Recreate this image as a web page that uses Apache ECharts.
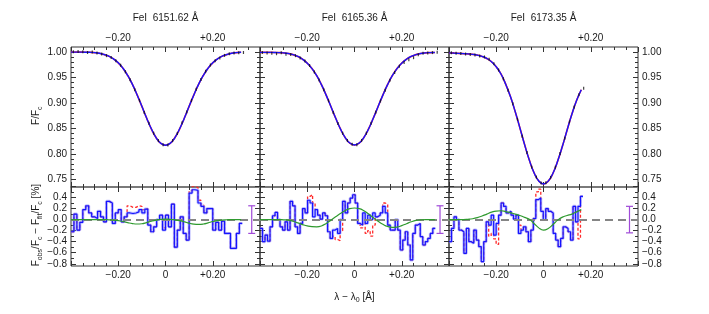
<!DOCTYPE html>
<html><head><meta charset="utf-8">
<script src="https://cdn.jsdelivr.net/npm/echarts@6/dist/echarts.min.js"></script>
<style>html,body{margin:0;padding:0;background:#fff}#c{width:709px;height:314px}</style>
</head><body><div id="c"></div><script>
// ---------------- data ----------------
const lineNames = ['FeI  6151.62 Å', 'FeI  6165.36 Å', 'FeI  6173.35 Å'];
const xTickLabels = ['\u22120.20', '0', '+0.20'];

// fitted profiles, sampled from -0.40 Å in steps of 0.02 Å
const fitStart = -0.40, fitStep = 0.02;
const fit1 = [1.000, 1.000, 0.9999, 0.9998, 0.9996, 0.9990, 0.9978, 0.9953, 0.9919, 0.9866, 0.9789, 0.9682, 0.9541, 0.9365, 0.9159, 0.8934, 0.8705, 0.8493, 0.8322, 0.8209, 0.8170,
  0.8209, 0.8322, 0.8493, 0.8705, 0.8934, 0.9159, 0.9365, 0.9541, 0.9682, 0.9789, 0.9866, 0.9919, 0.9953, 0.9978, 0.9990, 0.9996];
const fit2 = [0.9995, 0.9995, 0.9994, 0.9993, 0.9990, 0.9984, 0.9972, 0.9950, 0.9915, 0.9860, 0.9782, 0.9676, 0.9536, 0.9360, 0.9155, 0.8932, 0.8705, 0.8495, 0.8325, 0.8213, 0.8176,
  0.8213, 0.8325, 0.8495, 0.8705, 0.8932, 0.9155, 0.9360, 0.9536, 0.9676, 0.9782, 0.9860, 0.9915, 0.9950, 0.9972, 0.9984, 0.9990, 0.9993];
const fit3 = [0.9985, 0.998, 0.9975, 0.997, 0.9965, 0.9955, 0.994, 0.9915, 0.9875, 0.981, 0.971, 0.957, 0.937, 0.9126, 0.8835, 0.8512, 0.8183, 0.7878, 0.763, 0.7467, 0.741,
  0.7465, 0.762, 0.786, 0.815, 0.847, 0.878, 0.905, 0.926];

// observed profiles, sampled from -0.39 Å in steps of 0.02 Å
const obsStart = -0.39, obsStep = 0.02;
const obs1 = [1.0005, 1.0012, 1.0008, 0.9992, 1.0004, 0.9980, 0.9962, 0.9930, 0.9895, 0.9832, 0.9740, 0.9615, 0.9455, 0.9262, 0.9050, 0.8815, 0.8600, 0.8405, 0.8262, 0.8180,
  0.8175, 0.8262, 0.8400, 0.8610, 0.8825, 0.9050, 0.9270, 0.9460, 0.9625, 0.9745, 0.9830, 0.9885, 0.9935, 0.9968, 0.9980, 0.9988, 0.9992];
const obs2 = [0.9990, 0.9982, 0.9975, 0.9968, 0.9985, 0.9960, 0.9955, 0.9930, 0.9885, 0.9825, 0.9735, 0.9610, 0.9450, 0.9258, 0.9045, 0.8812, 0.8598, 0.8404, 0.8265, 0.8188,
  0.8180, 0.8265, 0.8405, 0.8600, 0.8818, 0.9040, 0.9250, 0.9445, 0.9600, 0.9720, 0.9795, 0.9850, 0.9890, 0.9950, 0.9975, 0.9982, 0.9990, 0.9995];
const obs3 = [0.9985, 0.9978, 0.9970, 0.9962, 0.9955, 0.9945, 0.9925, 0.9905, 0.9860, 0.9770, 0.9650, 0.9475, 0.9250, 0.8985, 0.8680, 0.8345, 0.8030, 0.7745, 0.7545, 0.7430,
  0.7435, 0.7540, 0.7740, 0.8010, 0.8310, 0.8630, 0.8920, 0.9160, 0.9290];

// residuals [%], binned from -0.40 Å
const resStart = -0.40;
const resStep = [0.0125, 0.0106, 0.0105];
const res1 = [-0.22, 0.10, -0.19, -0.05, 0.18, 0.25, 0.12, 0.05, 0.02, 0.15, 0.05, -0.04, 0.33, 0.30, -0.07, 0.12, 0.18, -0.04, 0.05, 0.12, 0.11, 0.12, 0.14, 0.18, 0.12, 0.19, -0.10, -0.22, -0.13, 0.00, 0.08, -0.19, 0.08, -0.13, 0.28, -0.50, -0.19, 0.05, -0.25, -0.37, 0.48, 0.54, 0.53, 0.30, 0.24, 0.12, 0.20, 0.20, -0.19, -0.05, -0.19, -0.03, -0.25, -0.25, -0.52, -0.52, -0.25, -0.07];
const red1 = [-0.22, 0.10, -0.19, -0.05, 0.18, 0.25, 0.12, 0.05, 0.02, 0.15, 0.05, -0.04, 0.33, 0.30, -0.07, 0.12, 0.18, -0.04, 0.05, 0.25, 0.22, 0.22, 0.25, 0.24, 0.18, 0.20, -0.10, -0.22, -0.13, 0.00, 0.08, -0.15, 0.08, -0.13, 0.28, -0.50, -0.19, 0.05, -0.25, -0.37, 0.52, 0.60, 0.58, 0.35, 0.26, 0.12, 0.20, 0.20, -0.19, -0.05, -0.19, -0.03, -0.25, -0.25, -0.52, -0.52, -0.25, -0.07];
const res2 = [-0.16, -0.40, -0.28, -0.39, -0.13, 0.07, 0.13, 0.00, -0.13, -0.19, -0.04, -0.19, 0.33, 0.25, -0.13, -0.25, -0.07, 0.20, 0.12, 0.35, 0.30, 0.05, 0.18, 0.08, 0.01, 0.12, 0.07, -0.22, -0.34, -0.19, -0.16, -0.25, 0.00, 0.33, 0.12, 0.30, 0.39, 0.45, 0.30, -0.07, -0.10, 0.12, -0.07, 0.08, 0.00, 0.12, 0.05, 0.08, 0.12, 0.24, 0.12, -0.10, -0.19, -0.19, 0.00, -0.19, -0.55, -0.37, -0.22, -0.46, -0.73, -0.25, -0.10, -0.07, -0.31, -0.46, -0.40, -0.34, -0.25, -0.16];
const red2 = [-0.16, -0.40, -0.28, -0.39, -0.13, 0.07, 0.13, 0.00, -0.13, -0.19, -0.04, -0.19, 0.33, 0.25, -0.13, -0.25, -0.07, 0.20, 0.12, 0.42, 0.45, 0.30, 0.18, 0.08, 0.01, 0.12, 0.07, -0.22, -0.34, -0.30, -0.36, -0.38, -0.20, 0.33, 0.12, 0.30, 0.39, 0.45, 0.30, -0.07, -0.15, -0.05, -0.25, -0.20, -0.30, -0.10, 0.05, 0.08, 0.12, 0.30, 0.28, -0.10, -0.19, -0.19, 0.00, -0.19, -0.55, -0.37, -0.22, -0.46, -0.73, -0.25, -0.10, -0.07, -0.31, -0.46, -0.40, -0.34, -0.25, -0.16];
const res3 = [-0.40, -0.16, 0.05, 0.00, -0.19, -0.22, -0.61, -0.16, -0.40, -0.43, -0.19, -0.37, -0.49, -0.76, -0.40, -0.04, -0.10, 0.08, -0.28, -0.07, 0.08, 0.30, 0.24, 0.12, 0.15, 0.08, 0.01, 0.08, -0.25, -0.19, -0.13, -0.22, -0.40, -0.19, 0.02, 0.36, 0.39, 0.15, 0.00, 0.20, 0.15, 0.12, -0.25, -0.37, -0.49, -0.34, -0.13, -0.16, -0.22, -0.37, 0.24, -0.04, 0.24, 0.42];
const red3 = [-0.40, -0.16, 0.05, 0.00, -0.19, -0.22, -0.61, -0.16, -0.40, -0.43, -0.19, -0.37, -0.49, -0.76, -0.40, -0.04, -0.30, -0.25, -0.35, -0.45, 0.08, 0.30, 0.24, 0.12, 0.15, 0.08, 0.01, 0.08, -0.10, -0.19, -0.13, -0.22, -0.40, -0.19, 0.02, 0.50, 0.55, 0.15, 0.00, 0.20, 0.15, 0.12, -0.25, -0.37, -0.49, -0.34, -0.13, -0.16, -0.22, -0.37, 0.24, -0.04, -0.35, 0.42];

// green model difference curves [%], from -0.40 Å in steps of 0.02 Å
const green1 = [0, 0, 0, 0, 0, 0, 0, 0, -0.005, -0.01, -0.02, -0.035, -0.055, -0.072, -0.08, -0.075, -0.055, -0.03, -0.01, 0.003, 0.008, 0.005, -0.005, -0.02, -0.04, -0.065, -0.082, -0.087, -0.08, -0.06, -0.035, -0.018, -0.008, -0.003, 0, 0, 0];
const green2 = [0, 0, 0, 0, 0, -0.005, -0.01, -0.03, -0.06, -0.09, -0.115, -0.128, -0.13, -0.115, -0.07, -0.01, 0.05, 0.11, 0.16, 0.20, 0.21, 0.20, 0.16, 0.10, 0.035, -0.03, -0.085, -0.125, -0.14, -0.135, -0.11, -0.075, -0.04, -0.015, -0.005, 0, 0, 0];
const green3 = [0, 0, 0, 0, 0.005, 0.015, 0.035, 0.065, 0.10, 0.135, 0.155, 0.16, 0.145, 0.125, 0.10, 0.075, 0.04, 0.005, -0.07, -0.15, -0.19, -0.16, -0.09, -0.01, 0.045, 0.075, 0.10, 0.14, 0.18];

// typical error bars [%]
const errX = [0.365, 0.362, 0.364];
const errLo = [-0.25, -0.25, -0.24];
const errHi = [0.25, 0.25, 0.24];

// ---------------- layout / style ----------------
const FONT = '"Liberation Sans", Arial, Helvetica, sans-serif';
const TXT = '#1a1a1a';
const BLUE = '#1414ff', RED = '#ff2a2a', GREEN = '#2f9a2f', PURPLE = '#a04ad8';
const lefts = [71, 260, 449], W = 189;
const TOP_T = 47, TOP_H = 140, BOT_T = 187, BOT_H = 79;
const TOP_RANGE = [0.735, 1.01], BOT_RANGE = [-0.84, 0.59];
const fits = [fit1, fit2, fit3], obss = [obs1, obs2, obs3];
const ress = [res1, res2, res3], reds = [red1, red2, red3], greens = [green1, green2, green3];

const pts = (start, step, arr) => arr.map((v, i) => [+(start + i * step).toFixed(5), v]);
const stepPts = (start, step, arr) => {
  const p = pts(start, step, arr);
  p.push([+(start + arr.length * step).toFixed(5), arr[arr.length - 1]]);
  return p;
};
const near = (a, b) => Math.abs(a - b) < 1e-6;
const minus = s => s.replace('-', '\u2212');
const rich = {
  n: { fontSize: 10, fontFamily: FONT, color: TXT, lineHeight: 14 },
  sub: { fontSize: 7, fontFamily: FONT, color: TXT, lineHeight: 14, verticalAlign: 'bottom', padding: [5, 0, 0, 0] }
};

const grids = [], xAxis = [], yAxis = [], series = [];
const labelStyle = { fontSize: 10, fontFamily: FONT, color: TXT };

function xAx(grid, pos, showLabels, withZero, extra) {
  return Object.assign({
    gridIndex: grid, type: 'value', position: pos, min: -0.4, max: 0.4, interval: 0.2,
    axisLine: { show: false, onZero: false },
    axisTick: { show: true, inside: true, length: 5, lineStyle: { color: '#333' } },
    minorTick: { show: true, splitNumber: 4, length: 3, lineStyle: { color: '#333' } },
    splitLine: { show: false }, minorSplitLine: { show: false },
    axisLabel: Object.assign({
      show: showLabels, margin: 4,
      formatter: v => near(v, -0.2) ? xTickLabels[0] : near(v, 0.2) ? xTickLabels[2] : (withZero && near(v, 0)) ? xTickLabels[1] : ''
    }, labelStyle)
  }, extra || {});
}
function decoY(grid, pos, min, max, interval, split, showLabels, fmt, extra) {
  return Object.assign({
    gridIndex: grid, type: 'value', position: pos, min, max, interval,
    axisLine: { show: false, onZero: false },
    axisTick: { show: true, inside: true, length: 5, lineStyle: { color: '#333' } },
    minorTick: { show: true, splitNumber: split, length: 3, lineStyle: { color: '#333' } },
    splitLine: { show: false }, minorSplitLine: { show: false },
    axisLabel: Object.assign({ show: showLabels, margin: 4, formatter: fmt }, labelStyle)
  }, extra || {});
}
function decoBox(top, h, range, dmin, dmax) {
  const k = h / (range[1] - range[0]);
  return { top: top + (range[1] - dmax) * k, height: (dmax - dmin) * k };
}
const fmtTop = v => v.toFixed(2);
const fmtBot = v => v > 0.5 ? '' : minus(v.toFixed(1)).replace('\u22120.0', '0.0');

for (let p = 0; p < 3; p++) {
  const left = lefts[p];
  // ---- top panel (profile) ----
  const gT = grids.length;
  grids.push({ left, top: TOP_T, width: W, height: TOP_H, show: true, borderColor: '#333', borderWidth: 1, backgroundColor: 'transparent' });
  const xT = xAxis.length;
  xAxis.push(xAx(gT, 'bottom', false, false, { axisLine: { show: true, onZero: false, lineStyle: { color: '#7a7a7a', width: 2 } } }));
  xAxis.push(xAx(gT, 'top', true, false, {
    name: lineNames[p], nameLocation: 'middle', nameGap: 24,
    nameTextStyle: { fontSize: 10, fontFamily: FONT, color: TXT }
  }));
  const yT = yAxis.length;
  yAxis.push({ gridIndex: gT, type: 'value', min: TOP_RANGE[0], max: TOP_RANGE[1], show: false, axisLine: { onZero: false } });
  // deco grid for top y ticks
  const dT = grids.length;
  grids.push(Object.assign({ left, width: W, show: false }, decoBox(TOP_T, TOP_H, TOP_RANGE, 0.75, 1.00)));
  xAxis.push({ gridIndex: dT, type: 'value', min: -0.4, max: 0.4, show: false, axisLine: { onZero: false } });
  yAxis.push(decoY(dT, 'left', 0.75, 1.00, 0.05, 5, p === 0, fmtTop, p === 0 ? {
    name: '{n|F/F}{sub|c}', nameLocation: 'middle', nameGap: 27, nameTextStyle: { rich }
  } : {}));
  yAxis.push(decoY(dT, 'right', 0.75, 1.00, 0.05, 5, p === 2, fmtTop));

  series.push({
    type: 'line', xAxisIndex: xT, yAxisIndex: yT, data: pts(fitStart, fitStep, fits[p]),
    smooth: true, showSymbol: false, lineStyle: { color: RED, width: 1.6 }, z: 2, silent: true
  });
  series.push({
    type: 'line', xAxisIndex: xT, yAxisIndex: yT, data: pts(fitStart, fitStep, fits[p]),
    smooth: true, showSymbol: false, lineStyle: { color: BLUE, width: 1.4 }, z: 3, silent: true
  });
  series.push({
    type: 'scatter', xAxisIndex: xT, yAxisIndex: yT, data: pts(obsStart, obsStep, obss[p]),
    symbol: 'rect', symbolSize: [1.2, 3], itemStyle: { color: '#111' }, z: 4, silent: true
  });

  // ---- bottom panel (residuals) ----
  const gB = grids.length;
  grids.push({ left, top: BOT_T, width: W, height: BOT_H, show: true, borderColor: '#333', borderWidth: 1, backgroundColor: 'transparent' });
  const xB = xAxis.length;
  xAxis.push(xAx(gB, 'bottom', true, true, p === 1 ? {
    name: '{n|\u03bb \u2212 \u03bb}{sub|0}{n| [\u00c5]}', nameLocation: 'middle', nameGap: 24, nameTextStyle: { rich }
  } : {}));
  xAxis.push(xAx(gB, 'top', false, false));
  const yB = yAxis.length;
  yAxis.push({ gridIndex: gB, type: 'value', min: BOT_RANGE[0], max: BOT_RANGE[1], show: false, axisLine: { onZero: false } });
  const dB = grids.length;
  grids.push(Object.assign({ left, width: W, show: false }, decoBox(BOT_T, BOT_H, BOT_RANGE, -0.8, 0.6)));
  xAxis.push({ gridIndex: dB, type: 'value', min: -0.4, max: 0.4, show: false, axisLine: { onZero: false } });
  yAxis.push(decoY(dB, 'left', -0.8, 0.6, 0.2, 2, p === 0, fmtBot, p === 0 ? {
    name: '{n|F}{sub|obs}{n|/F}{sub|c}{n| \u2212 F}{sub|fit}{n|/F}{sub|c}{n| [%]}', nameLocation: 'middle', nameGap: 25, nameTextStyle: { rich }
  } : {}));
  yAxis.push(decoY(dB, 'right', -0.8, 0.6, 0.2, 2, p === 2, fmtBot));

  const sx = resStep[p];
  series.push({
    type: 'line', xAxisIndex: xB, yAxisIndex: yB, data: stepPts(resStart, sx, reds[p]), step: 'end',
    showSymbol: false, lineStyle: { color: RED, width: 1.3, type: [3, 2] }, z: 2, silent: true
  });
  series.push({
    type: 'line', xAxisIndex: xB, yAxisIndex: yB, data: stepPts(resStart, sx, ress[p]), step: 'end',
    showSymbol: false, lineStyle: { color: '#8c8cff', width: 3, opacity: 0.55 }, z: 3, silent: true
  });
  series.push({
    type: 'line', xAxisIndex: xB, yAxisIndex: yB, data: stepPts(resStart, sx, ress[p]), step: 'end',
    showSymbol: false, lineStyle: { color: BLUE, width: 1.2 }, z: 4, silent: true
  });
  series.push({
    type: 'line', xAxisIndex: xB, yAxisIndex: yB, data: pts(fitStart, fitStep, greens[p]),
    smooth: true, showSymbol: false, lineStyle: { color: GREEN, width: 1.2 }, z: 5, silent: true
  });
  series.push({
    type: 'line', xAxisIndex: xB, yAxisIndex: yB, data: [], z: 6, silent: true,
    markLine: { silent: true, symbol: 'none', label: { show: false },
      lineStyle: { color: '#858585', width: 1.8, type: [8, 5] }, data: [{ yAxis: 0 }] }
  });
  series.push({
    type: 'custom', xAxisIndex: xB, yAxisIndex: yB, data: [[errX[p], errLo[p], errHi[p]]], z: 7, silent: true,
    renderItem: (params, api) => {
      const a = api.coord([api.value(0), api.value(1)]);
      const b = api.coord([api.value(0), api.value(2)]);
      const st = { stroke: PURPLE, lineWidth: 1.2 };
      return { type: 'group', children: [
        { type: 'line', shape: { x1: a[0], y1: a[1], x2: b[0], y2: b[1] }, style: st },
        { type: 'line', shape: { x1: a[0] - 3.5, y1: a[1], x2: a[0] + 3.5, y2: a[1] }, style: st },
        { type: 'line', shape: { x1: b[0] - 3.5, y1: b[1], x2: b[0] + 3.5, y2: b[1] }, style: st }
      ] };
    }
  });
}

const chart = echarts.init(document.getElementById('c'), null, { renderer: 'canvas' });
chart.setOption({ animation: false, backgroundColor: '#fff', grid: grids, xAxis, yAxis, series });
</script></body></html>
